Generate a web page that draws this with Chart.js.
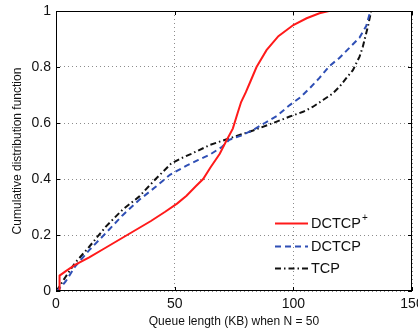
<!DOCTYPE html>
<html>
<head>
<meta charset="utf-8">
<script src="https://cdn.jsdelivr.net/npm/chart.js@4/dist/chart.umd.min.js"></script>
<style>
  html, body { margin: 0; padding: 0; background: #fff; }
  #wrap { width: 418px; height: 329px; }
</style>
</head>
<body>
<div id="wrap"><canvas id="c" width="418" height="329"></canvas></div>
<script>
// values (queue length in KB vs CDF)
const dctcpPlusX = [0, 1.5, 1.5, 4, 8, 14, 20, 30, 40, 46, 51, 55, 59, 62, 65, 69, 72, 74.5, 76.5, 78, 80, 82, 84.5, 88.7, 93.7, 100, 105.6, 111, 115, 133];
const dctcpPlusY = [0, 0, 0.055, 0.07, 0.093, 0.12, 0.15, 0.2, 0.25, 0.283, 0.312, 0.34, 0.375, 0.4, 0.44, 0.49, 0.54, 0.58, 0.635, 0.675, 0.71, 0.75, 0.8, 0.86, 0.91, 0.95, 0.974, 0.992, 1, 1];

const dctcpX = [0, 1, 4, 8, 14, 21, 28, 35, 42, 48, 55, 60, 65, 70, 73, 78, 83, 88, 93, 98.5, 102.7, 106.9, 111.1, 115.3, 119.5, 123.7, 127.9, 130.7, 132.5];
const dctcpY = [0, 0.005, 0.033, 0.087, 0.146, 0.207, 0.27, 0.325, 0.372, 0.415, 0.448, 0.468, 0.488, 0.515, 0.54, 0.555, 0.575, 0.6, 0.625, 0.664, 0.69, 0.724, 0.762, 0.804, 0.833, 0.869, 0.905, 0.946, 1];

const tcpX = [0, 1, 4, 8, 14, 21, 28, 35, 42, 48.5, 53, 57, 65, 73, 83, 93, 98.5, 104.1, 108.3, 112.5, 116.7, 119.5, 122.3, 125.1, 127.9, 129.3, 131.4, 132.8];
const tcpY = [0, 0.01, 0.05, 0.1, 0.158, 0.23, 0.29, 0.337, 0.4, 0.455, 0.475, 0.49, 0.522, 0.545, 0.573, 0.605, 0.623, 0.64, 0.658, 0.682, 0.706, 0.73, 0.76, 0.789, 0.837, 0.873, 0.944, 1];

const xTicks = [0, 50, 100, 150];
const yTicks = [0, 0.2, 0.4, 0.6, 0.8, 1];
const seriesNames = ['DCTCP', 'DCTCP', 'TCP'];

const FONT = 'Liberation Sans, Arial, Helvetica, sans-serif';

function pts(xs, ys) {
    return xs.map((x, i) => ({ x: x, y: ys[i] }));
}

// frame box + inward ticks + legend, matlab style
const framePlugin = {
    id: 'frame',
    afterDraw(chart) {
        const ctx = chart.ctx;
        const a = chart.chartArea;
        const xs = chart.scales.x, ys = chart.scales.y;
        ctx.save();
        ctx.strokeStyle = '#000';
        ctx.lineWidth = 1;
        ctx.setLineDash([]);
        ctx.strokeRect(a.left + 0.5, a.top + 0.5, a.right - a.left - 1, a.bottom - a.top - 1);
        ctx.beginPath();
        xTicks.forEach(v => {
            const px = Math.round(xs.getPixelForValue(v)) + 0.5;
            ctx.moveTo(px, a.bottom); ctx.lineTo(px, a.bottom - 4);
            ctx.moveTo(px, a.top); ctx.lineTo(px, a.top + 4);
        });
        yTicks.forEach(v => {
            const py = Math.round(ys.getPixelForValue(v)) + 0.5;
            ctx.moveTo(a.left, py); ctx.lineTo(a.left + 4, py);
            ctx.moveTo(a.right, py); ctx.lineTo(a.right - 4, py);
        });
        ctx.stroke();

        // legend
        const rows = [223, 246, 268];
        chart.data.datasets.forEach((ds, i) => {
            const y = rows[i] + 0.5;
            ctx.strokeStyle = ds.borderColor;
            ctx.lineWidth = ds.borderWidth;
            ctx.setLineDash(ds.borderDash || []);
            ctx.beginPath();
            ctx.moveTo(275, y); ctx.lineTo(308, y);
            ctx.stroke();
            ctx.setLineDash([]);
            ctx.fillStyle = '#111';
            ctx.font = '14.5px ' + FONT;
            ctx.textBaseline = 'middle';
            ctx.textAlign = 'left';
            ctx.fillText(seriesNames[i], 311, rows[i] + 1);
            if (i === 0) {
                const w = ctx.measureText(seriesNames[i]).width;
                ctx.font = '10px ' + FONT;
                ctx.fillText('+', 311 + w + 1, rows[i] - 5);
            }
        });
        ctx.restore();
    }
};

new Chart(document.getElementById('c'), {
    type: 'line',
    data: {
        datasets: [
            {
                label: 'DCTCP+',
                data: pts(dctcpPlusX, dctcpPlusY),
                borderColor: '#ff1a1a',
                borderWidth: 2,
                pointRadius: 0,
                tension: 0
            },
            {
                label: 'DCTCP',
                data: pts(dctcpX, dctcpY),
                borderColor: '#2f4fb5',
                borderWidth: 2,
                borderDash: [6, 4],
                pointRadius: 0,
                tension: 0
            },
            {
                label: 'TCP',
                data: pts(tcpX, tcpY),
                borderColor: '#111111',
                borderWidth: 2,
                borderDash: [6, 3, 1.5, 3],
                pointRadius: 0,
                tension: 0
            }
        ]
    },
    options: {
        responsive: false,
        animation: false,
        layout: { padding: { top: 11, right: 6, left: 0, bottom: 0 } },
        plugins: {
            legend: { display: false },
            tooltip: { enabled: false }
        },
        scales: {
            x: {
                type: 'linear',
                min: 0,
                max: 150,
                afterBuildTicks: s => { s.ticks = xTicks.map(v => ({ value: v })); },
                afterFit: s => { s.height = 38; s.paddingLeft = 0; s.paddingRight = 0; },
                border: { display: false, dash: [1, 3] },
                grid: { color: '#8c8c8c', lineWidth: 1, drawTicks: false },
                ticks: {
                    color: '#111',
                    font: { family: FONT, size: 14 },
                    padding: 5,
                    maxRotation: 0
                },
                title: {
                    display: true,
                    text: 'Queue length (KB) when N = 50',
                    color: '#111',
                    font: { family: FONT, size: 12 },
                    padding: { top: 0, bottom: 0 }
                }
            },
            y: {
                type: 'linear',
                min: 0,
                max: 1,
                afterBuildTicks: s => { s.ticks = yTicks.map(v => ({ value: v })); },
                afterFit: s => { s.width = 56; s.paddingTop = 0; s.paddingBottom = 0; },
                border: { display: false, dash: [1, 3] },
                grid: { color: '#8c8c8c', lineWidth: 1, drawTicks: false },
                ticks: {
                    color: '#111',
                    font: { family: FONT, size: 14 },
                    padding: 5,
                    callback: v => String(+v.toFixed(1))
                },
                title: {
                    display: true,
                    text: 'Cumulative distribution function',
                    color: '#111',
                    font: { family: FONT, size: 12 },
                    padding: { top: 10, bottom: 0 }
                }
            }
        }
    },
    plugins: [framePlugin]
});
</script>
</body>
</html>
